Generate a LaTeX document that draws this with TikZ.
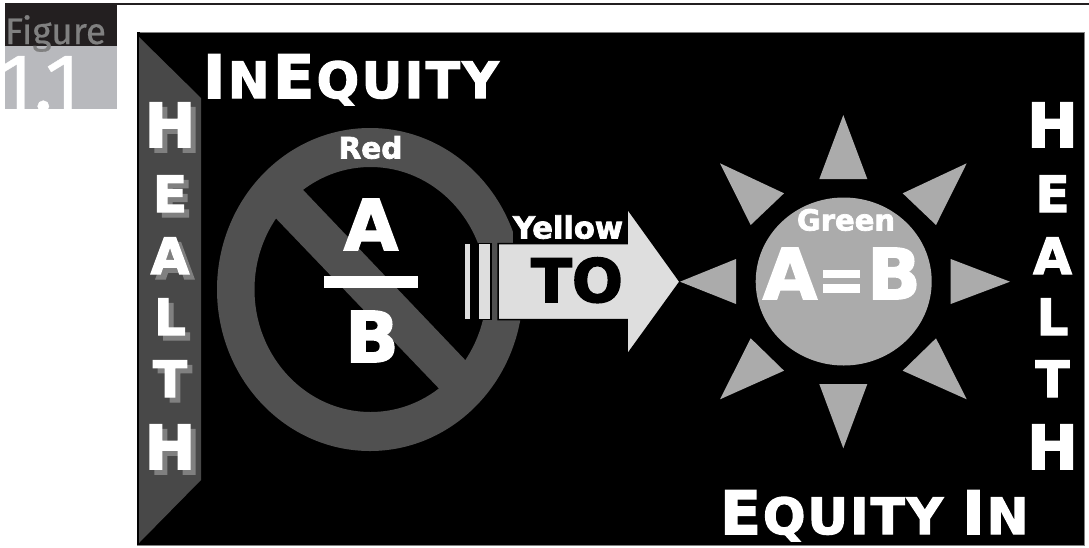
\documentclass[tikz,border=0pt]{standalone}
\usepackage{fontspec}
\usepackage{xcolor}
\usetikzlibrary{positioning,calc}
\newfontfamily\heavyfont{DejaVu Sans}[BoldFeatures={FakeBold=2.5}]
\newfontfamily\tabfont{Fira Sans}[FakeBold=0.4]
\newcommand{\heavy}[1]{\fontsize{#1}{#1}\selectfont\heavyfont\bfseries}
\definecolor{tabdark}{HTML}{231F20}
\definecolor{tabgray}{HTML}{B8B9BD}
\definecolor{bannergray}{HTML}{484848}
\definecolor{ringgray}{HTML}{505050}
\definecolor{shadowgray}{HTML}{808080}
\definecolor{sungray}{HTML}{ABABAB}
\definecolor{arrowgray}{HTML}{DEDEDE}
\tikzset{
  lbl/.style={inner sep=0pt, outer sep=0pt, text=white, anchor=base},
  ray/.style={fill=sungray},
  tube/.style={fill=arrowgray, draw=black, line width=1.5pt}
}
\begin{document}
\begin{tikzpicture}[x=1pt, y=-1pt]
  \useasboundingbox (0,0) rectangle (1089,547);
  % figure tab and top rule
  \fill[tabdark] (5,3) rectangle (1089,4.6);
  \fill[tabdark] (5,4) rectangle (117,46);
  \fill[tabgray] (5,46) rectangle (117,109);
  \node[lbl, anchor=base west, text=shadowgray, font=\tabfont\fontsize{37}{37}\selectfont] (figword) at (5,44) {Figure};
  \begin{scope}
    \clip (5,46) rectangle (117,109);
    \node[lbl, anchor=base west, font=\tabfont\fontsize{82}{82}\selectfont] (fignum) at (-2,111) {1.1};
  \end{scope}
  % black panel and left banner
  \fill[black, draw=shadowgray, line width=0.5pt] (137.5,32.5) rectangle (1084,545);
  \fill[black] (137,32) rectangle (140,545);
  \fill[bannergray] (139,37) -- (201,98) -- (201,480) -- (139,543) -- cycle;
  % HEALTH columns
  \foreach \ltr/\base/\size in {H/147/61, E/212/50, A/274/50, L/335/50, T/397/50, H/469/61} {
    \node[lbl, text=shadowgray, font=\heavy{\size}] (lshadow\base) at (175,\base+5) {\ltr};
    \node[lbl, font=\heavy{\size}] (lletter\base) at (170,\base) {\ltr};
    \node[lbl, font=\heavy{\size}] (rletter\base) at (1052.5,\base) {\ltr};
  }
  % titles
  \node[lbl, anchor=base west, font=\heavy{50}] (inequity) at (203,98) {{\heavy{60}I}\kern2.5pt N\kern3.5pt{\heavy{60}E}\kern2.5pt Q\kern2.5pt U\kern2.5pt I\kern2.5pt T\kern2.5pt Y};
  \node[lbl, anchor=base west, font=\heavy{50}] (equityin) at (720,534) {{\heavy{60}E}\kern2pt Q\kern2pt U\kern2pt I\kern2pt T\kern2pt Y\kern2pt\ {\heavy{60}I}\kern2pt N};
  % no-sign ring and bar
  \fill[ringgray, even odd rule] (370,289.5) ellipse [x radius=153, y radius=161.5]
    (370.5,289.5) ellipse [x radius=116, y radius=122.5];
  \fill[ringgray] (292.7,179) -- (266,208) -- (449,399) -- (475.7,371) -- cycle;
  \node[lbl, font=\heavy{29.5}] (red) at (370.5,158.5) {Red};
  \node[lbl, font=\heavy{70}] (numer) at (371,250) {A};
  \fill[white] (324,276) rectangle (418,288);
  \node[lbl, font=\heavy{70}] (denom) at (372,362) {B};
  % arrow
  \fill[black] (513,214) rectangle (627,244);
  \node[lbl, font=\heavy{30.5}] (yellow) at (568,238.5) {Yellow};
  \draw[tube, draw=none] (465,244) rectangle (470,319);
  \draw[tube] (478,243.5) rectangle (491,319.5);
  \draw[tube] (498,243.5) -- (627,243.5) -- (627,208) -- (680,281.7) -- (627,355) -- (627,319.5) -- (498,319.5) -- cycle;
  \node[lbl, text=black, font=\heavy{60}] (towd) at (577,302) {TO};
  % sun
  \fill[sungray] (843.7,281.5) ellipse [x radius=88, y radius=84];
  \fill[ray] (843.3,115) -- (819.3,179) -- (867.3,179) -- cycle;
  \fill[ray] (843.3,448.3) -- (819.3,384) -- (867.3,384) -- cycle;
  \fill[ray] (680,281.7) -- (736,259) -- (736,304) -- cycle;
  \fill[ray] (1010,281.7) -- (950.7,259) -- (950.7,304) -- cycle;
  \fill[ray] (720,163.3) -- (784,193.3) -- (750.7,225) -- cycle;
  \fill[ray] (966.7,163.3) -- (902.7,193.3) -- (936,225) -- cycle;
  \fill[ray] (720,399.3) -- (784,370.7) -- (750.7,338.3) -- cycle;
  \fill[ray] (966.7,399.3) -- (902.7,370.7) -- (936,338.3) -- cycle;
  \node[lbl, font=\heavy{29}] (green) at (846,230.5) {Green};
  \node[lbl, font=\heavy{70}] (aleft) at (790,299) {A};
  \fill[white] (823,270) rectangle (860,278);
  \fill[white] (823,284) rectangle (860,292.5);
  \node[lbl, font=\heavy{70}] (bright) at (894,299) {B};
\end{tikzpicture}
\end{document}
